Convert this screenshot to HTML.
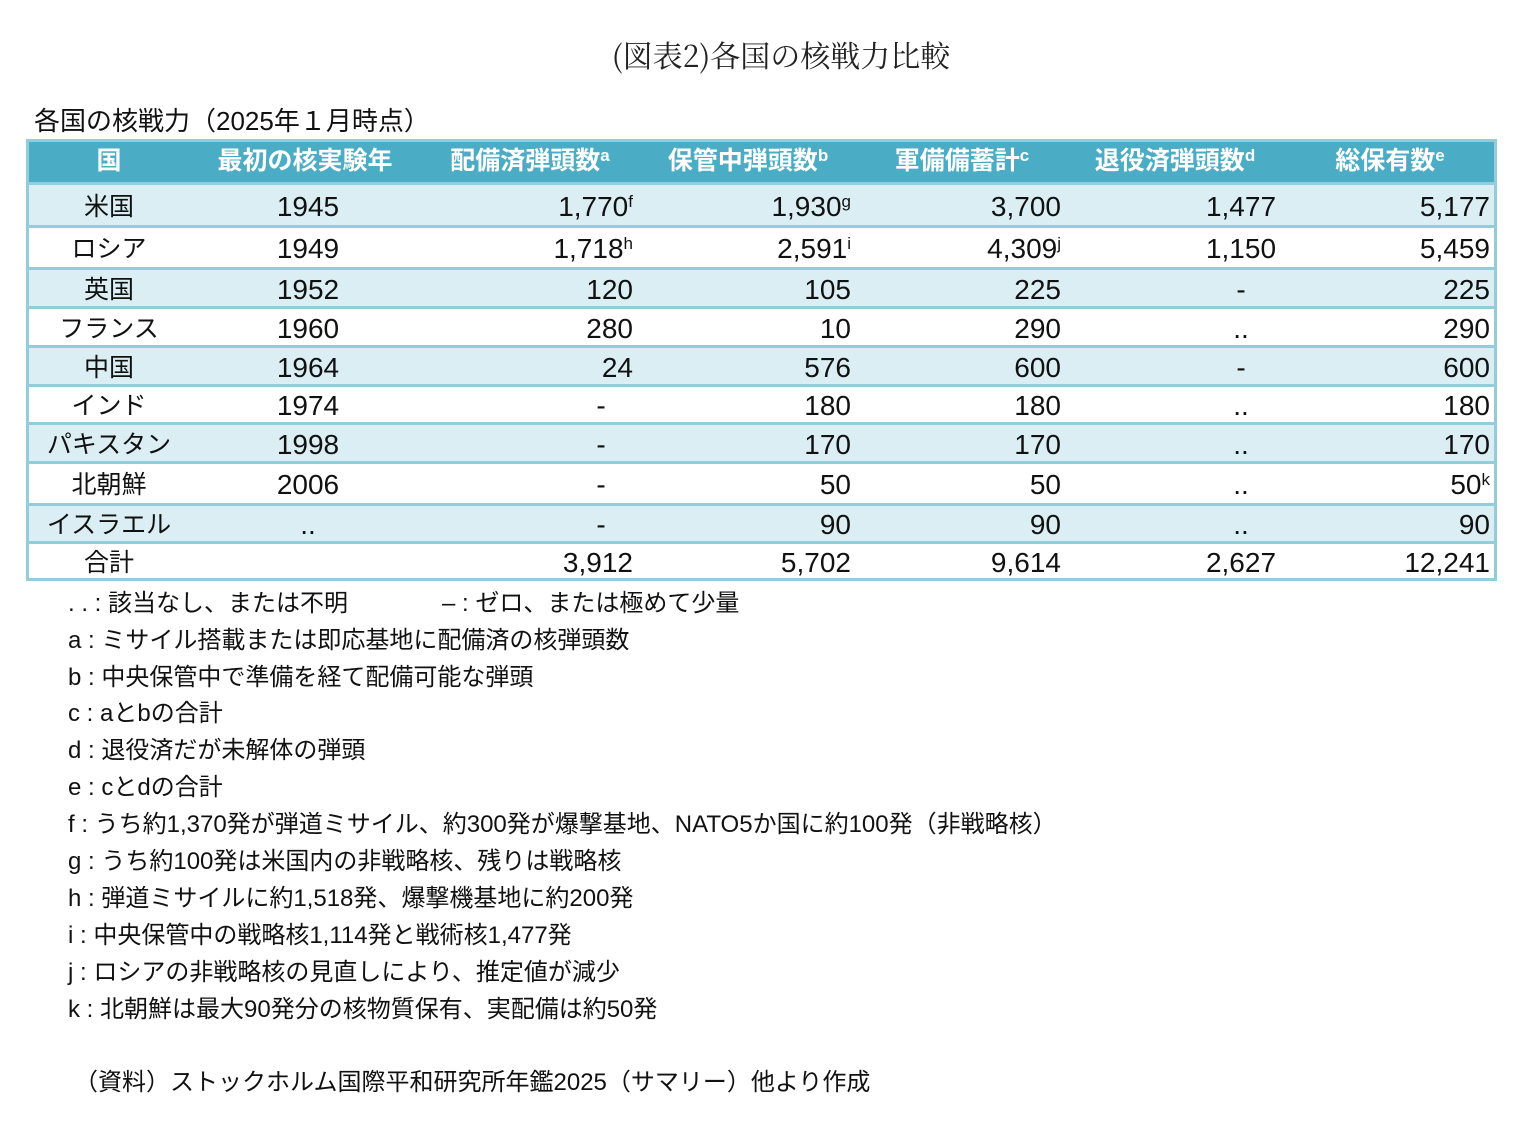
<!DOCTYPE html>
<html><head><meta charset="utf-8"><style>
body{margin:0;width:1518px;height:1124px;background:#fff;position:relative;overflow:hidden;font-family:"Liberation Sans","Noto Sans CJK JP",sans-serif;color:#111}
.a{position:absolute;white-space:nowrap}
.c{position:absolute;font-size:28px;white-space:nowrap}
.h{position:absolute;font-size:25px;font-weight:bold;color:#fff;white-space:nowrap;transform:translateX(-50%);top:144px;line-height:34px}
sup{font-size:17px;vertical-align:top;position:relative;top:-5px}
.n{position:absolute;left:68px;font-size:24px;line-height:30px;white-space:nowrap}
</style></head><body>
<div class="a" style="left:0;width:1562px;text-align:center;top:32px;font-size:30px;font-family:'Noto Serif CJK SC',serif;color:#222">(図表2)各国の核戦力比較</div>
<div class="a" style="left:34px;top:104px;font-size:26px;line-height:34px">各国の核戦力（2025年１月時点）</div>
<div class="a" style="left:26px;top:139px;width:1471px;height:442px;box-sizing:border-box;border:3px solid #92cddc;background:#fff"></div>
<div class="a" style="left:29px;top:142px;width:1465px;height:40px;background:#4bacc6"></div>
<div class="h" style="left:109px">国</div>
<div class="h" style="left:305px">最初の核実験年</div>
<div class="h" style="left:530px">配備済弾頭数<sup>a</sup></div>
<div class="h" style="left:748px">保管中弾頭数<sup>b</sup></div>
<div class="h" style="left:962px">軍備備蓄計<sup>c</sup></div>
<div class="h" style="left:1175px">退役済弾頭数<sup>d</sup></div>
<div class="h" style="left:1390px">総保有数<sup>e</sup></div>
<div id="rows"></div>
<script>
var b=[182,225,267,306,345,384,422,461,503,541,578];
var d=[["米国","1945","1,770<sup>f</sup>","1,930<sup>g</sup>","3,700","1,477","5,177"],
["ロシア","1949","1,718<sup>h</sup>","2,591<sup>i</sup>","4,309<sup>j</sup>","1,150","5,459"],
["英国","1952","120","105","225","-","225"],
["フランス","1960","280","10","290","..","290"],
["中国","1964","24","576","600","-","600"],
["インド","1974","-","180","180","..","180"],
["パキスタン","1998","-","170","170","..","170"],
["北朝鮮","2006","-","50","50","..","50<sup>k</sup>"],
["イスラエル","..","-","90","90","..","90"],
["合計","","3,912","5,702","9,614","2,627","12,241"]];
var h="";
for(var i=0;i<10;i++){var t=b[i],hh=b[i+1]-b[i];
h+='<div class="a" style="left:29px;width:1465px;top:'+t+'px;height:'+hh+'px;background:'+(i%2==0&&i<9?'#daeef3':'#fff')+';border-top:3px solid #92cddc;box-sizing:border-box"></div>';
var ty=t+(hh-34)/2+3,r=d[i];
var cc=[[109,'c'],[308,'c'],[633,'r'],[851,'r'],[1061,'r'],[1241,'c'],[1490,'r']];
for(var j=0;j<7;j++){var x=cc[j][0],al=cc[j][1];
if(j==2&&r[j]=='-'){x=601;al='c';}
var s;
if(al=='c')s='left:'+(x-150)+'px;width:300px;text-align:center';else s='left:'+(x-300)+'px;width:300px;text-align:right';
var f=j==0?'font-size:25px;':'';
h+='<div class="c" style="'+s+';top:'+ty+'px;line-height:34px;'+f+'">'+r[j]+'</div>';}}
document.getElementById('rows').innerHTML=h;
</script>
<div class="n" style="top:589px">. . : 該当なし、または不明<span style="position:absolute;left:374px">– : ゼロ、または極めて少量</span></div>
<div class="n" style="top:626px">a : ミサイル搭載または即応基地に配備済の核弾頭数</div>
<div class="n" style="top:663px">b : 中央保管中で準備を経て配備可能な弾頭</div>
<div class="n" style="top:699px">c : aとbの合計</div>
<div class="n" style="top:736px">d : 退役済だが未解体の弾頭</div>
<div class="n" style="top:773px">e : cとdの合計</div>
<div class="n" style="top:810px">f : うち約1,370発が弾道ミサイル、約300発が爆撃基地、NATO5か国に約100発（非戦略核）</div>
<div class="n" style="top:847px">g : うち約100発は米国内の非戦略核、残りは戦略核</div>
<div class="n" style="top:884px">h : 弾道ミサイルに約1,518発、爆撃機基地に約200発</div>
<div class="n" style="top:921px">i : 中央保管中の戦略核1,114発と戦術核1,477発</div>
<div class="n" style="top:958px">j : ロシアの非戦略核の見直しにより、推定値が減少</div>
<div class="n" style="top:995px">k : 北朝鮮は最大90発分の核物質保有、実配備は約50発</div>
<div class="n" style="top:1068px;left:74px">（資料）ストックホルム国際平和研究所年鑑2025（サマリー）他より作成</div>
</body></html>
